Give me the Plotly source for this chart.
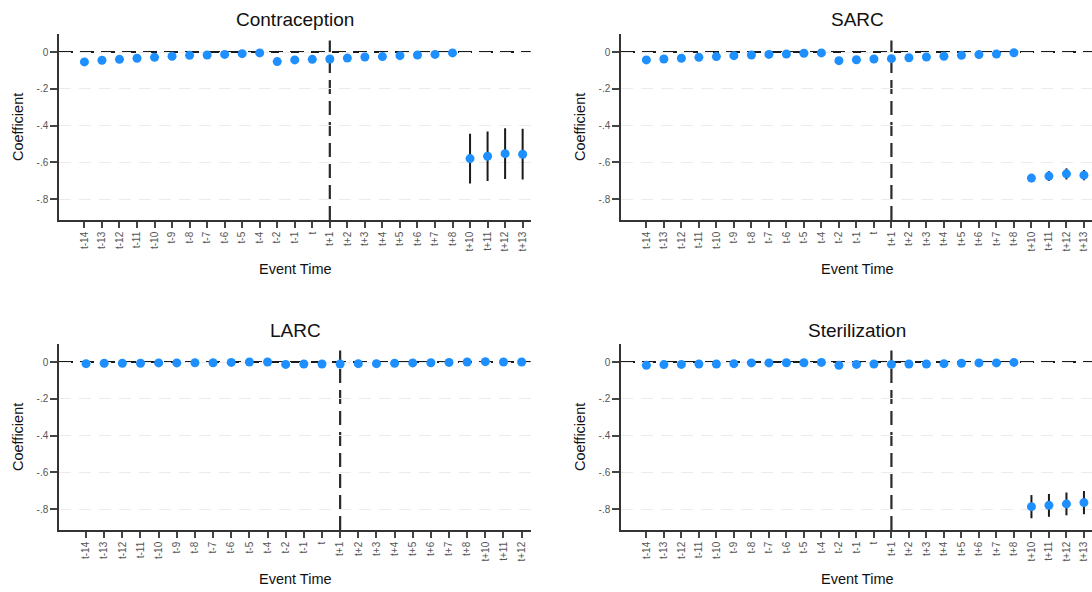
import plotly.graph_objects as go

# ---------------- data ----------------
cats_long = ["t-14", "t-13", "t-12", "t-11", "t-10", "t-9", "t-8", "t-7", "t-6", "t-5", "t-4",
             "t-2", "t-1", "t", "t+1", "t+2", "t+3", "t+4", "t+5", "t+6", "t+7", "t+8",
             "t+10", "t+11", "t+12", "t+13"]
cats_larc = ["t-14", "t-13", "t-12", "t-11", "t-10", "t-9", "t-8", "t-7", "t-6", "t-5", "t-4",
             "t-2", "t-1", "t", "t+1", "t+2", "t+3", "t+4", "t+5", "t+6", "t+7", "t+8",
             "t+10", "t+11", "t+12"]

contra_coef = [-0.054, -0.045, -0.040, -0.034, -0.029, -0.023, -0.018, -0.016, -0.013, -0.009, -0.005,
               -0.052, -0.043, -0.040, -0.038, -0.033, -0.027, -0.025, -0.020, -0.016, -0.013, -0.005,
               -0.580, -0.567, -0.553, -0.556]
contra_ci = [0, 0, 0, 0, 0, 0, 0, 0, 0, 0, 0,
             0, 0, 0, 0, 0, 0, 0, 0, 0, 0, 0,
             0.135, 0.135, 0.138, 0.138]

sarc_coef = [-0.043, -0.038, -0.034, -0.029, -0.025, -0.020, -0.016, -0.013, -0.011, -0.007, -0.005,
             -0.047, -0.042, -0.038, -0.036, -0.031, -0.027, -0.023, -0.018, -0.014, -0.011, -0.004,
             -0.686, -0.675, -0.663, -0.670]
sarc_ci = [0, 0, 0, 0, 0, 0, 0, 0, 0, 0, 0,
           0, 0, 0, 0, 0, 0, 0, 0, 0, 0, 0,
           0.022, 0.026, 0.030, 0.028]

larc_coef = [-0.009, -0.007, -0.007, -0.007, -0.005, -0.005, -0.004, -0.004, -0.002, 0.000, 0.000,
             -0.013, -0.011, -0.011, -0.011, -0.009, -0.009, -0.007, -0.005, -0.004, -0.002, 0.000,
             0.002, 0.000, 0.000]
larc_ci = [0, 0, 0, 0, 0, 0, 0, 0, 0, 0, 0,
           0, 0, 0, 0, 0, 0, 0, 0, 0, 0, 0,
           0, 0, 0]

steril_coef = [-0.018, -0.014, -0.013, -0.011, -0.011, -0.009, -0.005, -0.005, -0.004, -0.004, -0.002,
               -0.018, -0.013, -0.011, -0.013, -0.011, -0.011, -0.009, -0.007, -0.005, -0.005, -0.002,
               -0.787, -0.780, -0.772, -0.765]
steril_ci = [0, 0, 0, 0, 0, 0, 0, 0, 0, 0, 0,
             0, 0, 0, 0, 0, 0, 0, 0, 0, 0, 0,
             0.063, 0.062, 0.062, 0.063]

titles = ["Contraception", "SARC", "LARC", "Sterilization"]
y_ticks = [0, -0.2, -0.4, -0.6, -0.8]
y_ticktext = ["0", "-.2", "-.4", "-.6", "-.8"]
event_line_at = "t+1"

# ---------------- layout ----------------
W, H = 1092, 592
FONT = "Liberation Sans, Arial, sans-serif"
BLUE = "#1E8FFF"
DARK = "#1a1a1a"
TICKC = "#555555"

panels = [
    dict(title=titles[0], cats=cats_long, coef=contra_coef, ci=contra_ci, left=59, top=34),
    dict(title=titles[1], cats=cats_long, coef=sarc_coef, ci=sarc_ci, left=621, top=34),
    dict(title=titles[2], cats=cats_larc, coef=larc_coef, ci=larc_ci, left=59, top=344),
    dict(title=titles[3], cats=cats_long, coef=steril_coef, ci=steril_ci, left=621, top=344),
]
PW, PH = 471.7, 186
YR = [-0.914, 0.098]

fig = go.Figure()
layout = dict(
    width=W, height=H, margin=dict(l=0, r=0, t=0, b=0),
    paper_bgcolor="white", plot_bgcolor="white", showlegend=False,
    font=dict(family=FONT, color=DARK),
)
annotations = []
shapes = []

for i, p in enumerate(panels):
    n = i + 1
    xa = "xaxis" if n == 1 else f"xaxis{n}"
    ya = "yaxis" if n == 1 else f"yaxis{n}"
    xr = "x" if n == 1 else f"x{n}"
    yr = "y" if n == 1 else f"y{n}"
    N = len(p["cats"])
    x0 = p["left"] / W
    x1 = min((p["left"] + PW) / W, 1.0)
    y1 = 1 - p["top"] / H
    y0 = 1 - (p["top"] + PH) / H
    if N == 26:
        xrange = [-1.45, 25.46]
    else:
        xrange = [-1.49, 24.5]

    layout[xa] = dict(
        domain=[x0, x1], anchor=yr, type="category", range=xrange,
        showline=True, linecolor="#333333", linewidth=1.5,
        ticks="outside", ticklen=6, tickwidth=1.5, tickcolor="#444444",
        tickangle=-90, tickfont=dict(size=10, color=TICKC, family=FONT),
        showgrid=False, zeroline=False, fixedrange=True,
    )
    layout[ya] = dict(
        domain=[y0, y1], anchor=xr, range=YR,
        tickvals=y_ticks, ticktext=y_ticktext,
        showline=True, linecolor="#333333", linewidth=1.5,
        ticks="outside", ticklen=7, tickwidth=1.5, tickcolor="#444444",
        tickfont=dict(size=10, color=TICKC, family=FONT),
        showgrid=True, gridcolor="#ebebeb", gridwidth=1.2, griddash="12px,8px",
        zeroline=False, fixedrange=True,
    )

    # reference lines
    shapes.append(dict(type="line", xref=f"{xr} domain", yref=yr, x0=0, x1=1, y0=0, y1=0,
                       line=dict(color=DARK, width=2.2, dash="14px,7px"), layer="below"))
    shapes.append(dict(type="line", xref=xr, yref=f"{yr} domain", x0=event_line_at, x1=event_line_at,
                       y0=0, y1=0.965, line=dict(color="#2a2a2a", width=2.2, dash="14px,7px"),
                       layer="below"))

    fig.add_trace(go.Scatter(
        x=p["cats"], y=p["coef"], mode="markers", xaxis=xr, yaxis=yr,
        marker=dict(color=BLUE, size=9, symbol="circle"),
        error_y=dict(type="data", array=p["ci"], symmetric=True, color=DARK,
                     thickness=2, width=0),
        hoverinfo="x+y",
    ))

    annotations.append(dict(text=p["title"], x=(p["left"] + 236) / W, y=1 - (p["top"] - 14) / H,
                            xref="paper", yref="paper", showarrow=False,
                            xanchor="center", yanchor="middle",
                            font=dict(size=19, family=FONT, color="#111111")))
    annotations.append(dict(text="Coefficient", x=(p["left"] - 41) / W, y=1 - (p["top"] + 93) / H,
                            xref="paper", yref="paper", showarrow=False, textangle=-90,
                            xanchor="center", yanchor="middle",
                            font=dict(size=14.5, family=FONT, color="#111111")))
    annotations.append(dict(text="Event Time", x=(p["left"] + 236) / W, y=1 - (p["top"] + 235) / H,
                            xref="paper", yref="paper", showarrow=False,
                            xanchor="center", yanchor="middle",
                            font=dict(size=14.5, family=FONT, color="#111111")))

layout["annotations"] = annotations
layout["shapes"] = shapes
fig.update_layout(**layout)
fig.write_html("out.html")
